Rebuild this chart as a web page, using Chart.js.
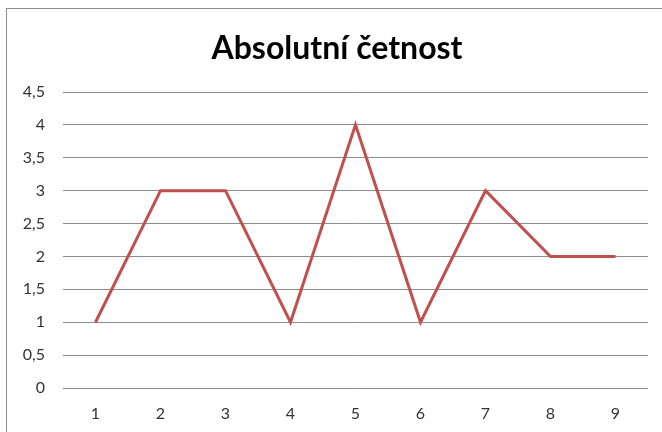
<!DOCTYPE html>
<html><head><meta charset="utf-8">
<script src="https://cdn.jsdelivr.net/npm/chart.js@4/dist/chart.umd.min.js"></script>
<style>
html,body{margin:0;padding:0;background:#fff;}
#wrap{position:relative;width:662px;height:432px;overflow:hidden;}
#frame{position:absolute;left:6px;top:8px;width:660px;height:440px;border:1px solid #8c8c8c;box-sizing:border-box;}
canvas{position:absolute;left:0;top:0;}
</style></head>
<body><div id="wrap"><div id="frame"></div><canvas id="c" width="662" height="432"></canvas></div>
<script>
const title = "Absolutní četnost";
const categories = ["1","2","3","4","5","6","7","8","9"];
const values = [1,3,3,1,4,1,3,2,2];
const yTicks = [0,0.5,1,1.5,2,2.5,3,3.5,4,4.5];

new Chart(document.getElementById('c'), {
  type: 'line',
  data: { labels: categories, datasets: [{ data: values, borderColor: '#C0504D', borderWidth: 3, pointRadius: 0, tension: 0, fill: false }] },
  options: {
    responsive: false, animation: false,
    layout: { padding: { left: 12, right: 0, top: 0, bottom: 0 } },
    plugins: {
      legend: { display: false }, tooltip: { enabled: false },
      title: { display: true, text: title, color: '#000', font: { family: 'Lato, "Open Sans", sans-serif', size: 32, weight: 'bold', lineHeight: 1.2 }, padding: { top: 29, bottom: 24.6 } }
    },
    scales: {
      x: {
        offset: true,
        grid: { display: false, drawTicks: false },
        border: { display: false },
        ticks: { color: '#333', padding: 16, font: { family: 'Lato, "Open Sans", sans-serif', size: 16 }, maxRotation: 0 },
        afterFit: s => { s.height = 44; }
      },
      y: {
        min: 0, max: 4.5,
        afterBuildTicks: s => { s.ticks = yTicks.map(v => ({ value: v })); },
        grid: { color: '#8c8c8c', lineWidth: 1, drawTicks: false },
        border: { display: false },
        ticks: { color: '#333', padding: 18, font: { family: 'Lato, "Open Sans", sans-serif', size: 16 }, callback: v => String(v).replace('.', ',') },
        afterFit: s => { s.width = 51; }
      },
      yr: {
        position: 'right', min: 0, max: 4.5,
        grid: { display: false, drawTicks: false },
        border: { display: false },
        ticks: { display: false },
        afterFit: s => { s.width = 14; }
      }
    }
  }
});
</script></body></html>
